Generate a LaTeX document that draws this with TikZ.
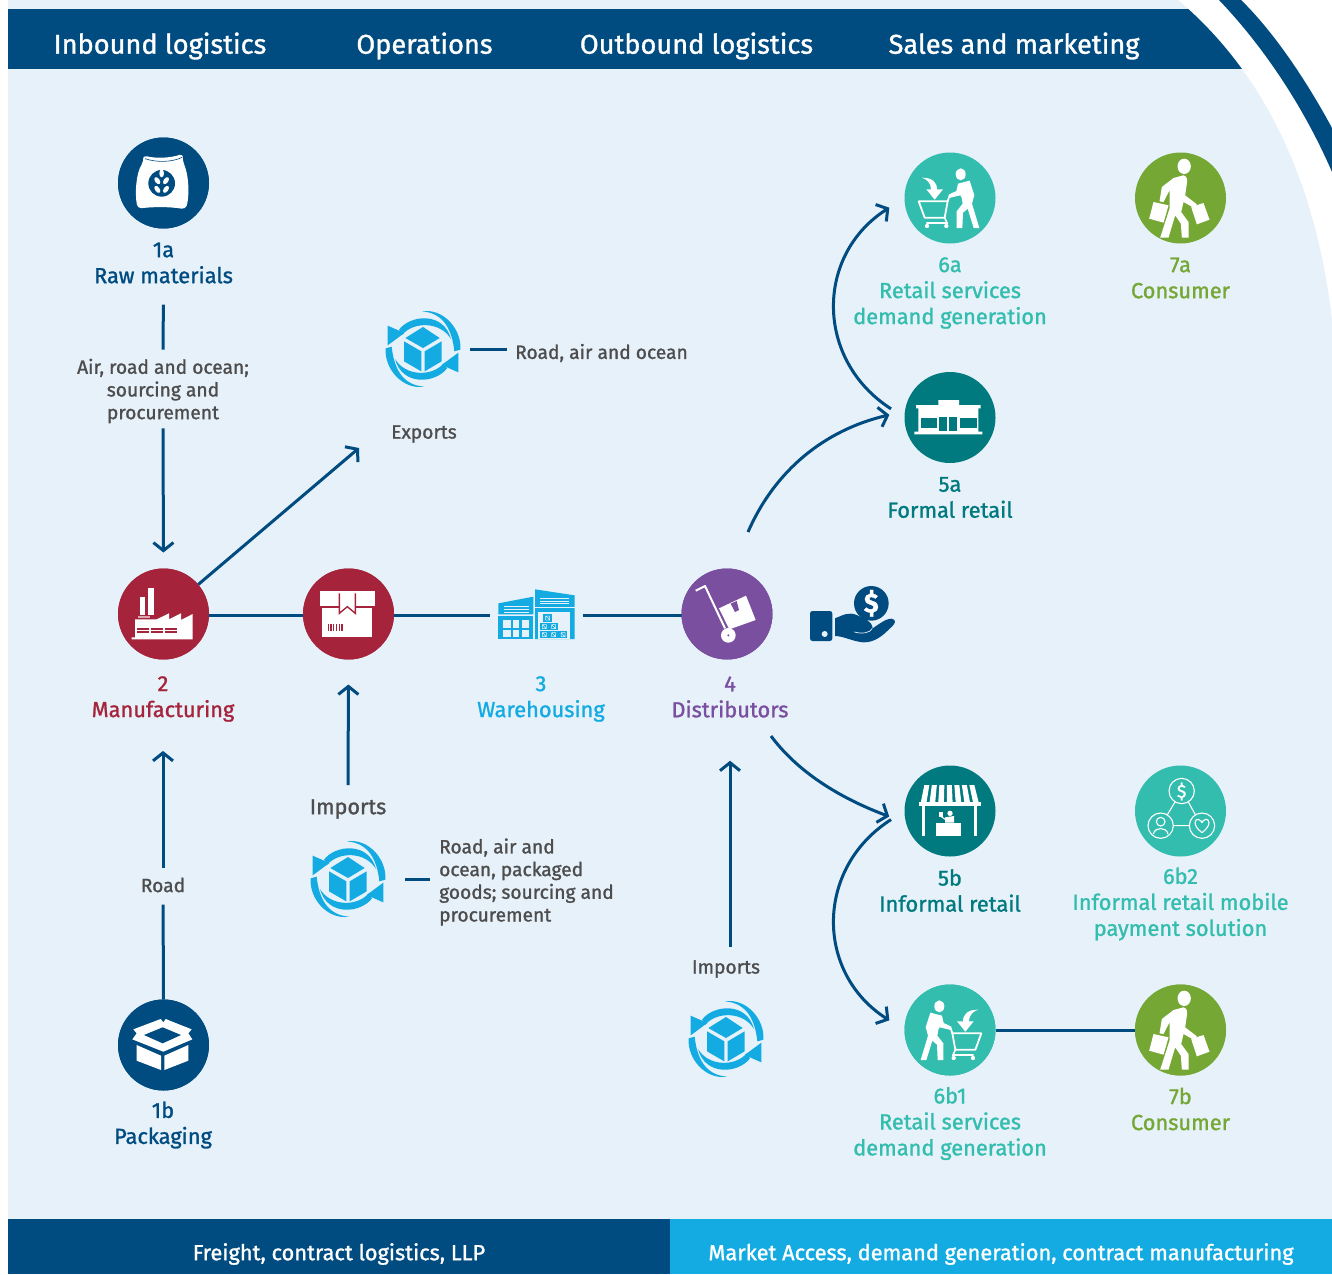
\documentclass[tikz,border=0pt]{standalone}
\usepackage{fontspec}
\usetikzlibrary{arrows.meta}
\setmainfont{Fira Sans}[FakeBold=1.2]
\definecolor{navy}{HTML}{004B80}
\definecolor{panel}{HTML}{E6F1FA}
\definecolor{crimson}{HTML}{A6243B}
\definecolor{sky}{HTML}{13ABE2}
\definecolor{violet}{HTML}{7B4F9F}
\definecolor{dteal}{HTML}{007A7E}
\definecolor{lteal}{HTML}{33BDAF}
\definecolor{leaf}{HTML}{75A735}
\definecolor{graytxt}{HTML}{4D4D4D}
\tikzset{
  disc/.style={circle,minimum size=91pt,inner sep=0pt,outer sep=0pt},
  hole/.style={inner sep=0pt,outer sep=0pt,minimum width=#1},
  conn/.style={draw=navy,line width=3pt},
  arr/.style={conn,-{Straight Barb[length=8pt,width=20pt,line width=3pt]}},
  headtxt/.style={text=white,font=\fontsize{27.2}{30}\selectfont,inner sep=0pt},
  foottxt/.style={text=white,font=\fontsize{21.8}{24}\selectfont,inner sep=0pt},
  lab/.style={align=center,inner sep=0pt,font=\fontsize{21.8}{26}\selectfont},
  small/.style={align=center,text=graytxt,inner sep=0pt,font=\fontsize{19.2}{22.7}\selectfont},
  smallL/.style={align=left,text=graytxt,inner sep=0pt,font=\fontsize{19.2}{22.7}\selectfont},
  pics/cyc/.style={code={
    \begin{scope}[shift={(-368,-148)}]
    \foreach \r in {0,180}{
      \begin{scope}[rotate around={\r:(368,148)}]
      \fill[sky] (262,78) -- (262,137) -- (312,100) -- cycle;
      \fill[sky] (296,90) .. controls (330,45) and (430,35) .. (452,118)
                 .. controls (420,65) and (340,65) .. (306,105) -- cycle;
      \fill[sky] (365,35) .. controls (430,40) and (455,90) .. (462,155) -- (480,150)
                 .. controls (485,90) and (430,25) .. (365,35) -- cycle;
      \end{scope}}
    \fill[sky] (368,82) -- (418,115) -- (368,145) -- (315,115) -- cycle;
    \fill[sky] (311,125) -- (363,155) -- (363,215) -- (311,185) -- cycle;
    \fill[sky] (373,155) -- (424,125) -- (424,185) -- (373,215) -- cycle;
    \end{scope}}},
  pics/cartperson/.style={code={
    \begin{scope}[shift={(-179,-173)}]
    \fill[white] (95,112) .. controls (125,112) and (140,125) .. (140,147) -- (158,147) -- (133,178) -- (108,147) -- (122,147) .. controls (122,130) and (112,118) .. (95,112) -- cycle;
    \draw[white,line width=1.8pt,line join=round] (85,183) -- (172,183) -- (163,232) -- (103,232) -- cycle;
    \draw[white,line width=1.8pt,line join=round] (172,183) -- (177,168) -- (205,160);
    \draw[white,line width=1.6pt] (163,232) -- (170,248) -- (108,248);
    \fill[white] (110,257) circle (6.5) (168,257) circle (6.5);
    \fill[white] (211,102) ellipse (15 and 18);
    \fill[white] (203,130) -- (238,121) -- (252,165) -- (249,175) -- (245,190) -- (267,263) -- (250,263) -- (232,205) -- (218,217) -- (216,263) -- (199,263) -- (199,213) -- (217,190) -- (214,172) -- (210,165) -- (176,173) -- (175,163) -- (198,152) -- cycle;
    \end{scope}}},
  pics/shopper/.style={code={
    \begin{scope}[shift={(-871,-173)}]
    \fill[white] (882,78) ellipse (20 and 23);
    \fill[white] (850,113) -- (880,105) .. controls (892,108) and (892,120) .. (890,130) -- (885,165) -- (920,192) -- (912,203) -- (880,185) -- (873,215) -- (895,245) -- (895,292) -- (875,292) -- (872,250) -- (855,225) -- (835,292) -- (810,292) -- (838,205) -- (838,150) -- (820,185) -- (808,183) -- (815,140) -- cycle;
    \fill[white] (790,185) -- (835,195) -- (820,247) -- (777,235) -- cycle;
    \fill[white] (903,200) -- (940,188) -- (958,238) -- (920,252) -- cycle;
    \end{scope}}}
}
\begin{document}
\begin{tikzpicture}[x=1pt,y=-1pt]
\useasboundingbox (0,0) rectangle (1332,1274);
\fill[white] (0,0) rectangle (1332,1274);
% panel
\fill[panel] (8,0) -- (1178,0) .. controls (1275,82) and (1318,200) .. (1332,320) -- (1332,1219) -- (8,1219) -- cycle;
% outer band
\fill[navy] (1219,0) .. controls (1262,45) and (1303,105) .. (1332,172) -- (1332,128) .. controls (1305,78) and (1272,30) .. (1241,0) -- cycle;
% header
\begin{scope}
\clip (8,0) -- (1178,0) .. controls (1275,82) and (1318,200) .. (1332,320) -- (8,320) -- cycle;
\fill[navy] (8,9) rectangle (1332,69);
\end{scope}
% footer
\fill[navy] (8,1219) rectangle (670,1274);
\fill[sky] (670,1219) rectangle (1332,1274);
\node[headtxt] (h1) at (160,46) {Inbound logistics};
\node[headtxt] (h2) at (424.5,46) {Operations};
\node[headtxt] (h3) at (696.5,46) {Outbound logistics};
\node[headtxt] (h4) at (1014,46) {Sales and marketing};
\node[foottxt] (f1) at (339,1254) {Freight, contract logistics, LLP};
\node[foottxt] (f2) at (1001,1254) {Market Access, demand generation, contract manufacturing};
% discs
\node[disc,fill=navy] (raw) at (163.5,183) {};
\node[disc,fill=crimson] (mfg) at (163.5,614) {};
\node[disc,fill=crimson] (pack) at (348.5,614) {};
\node[disc,fill=violet] (dist) at (727,614) {};
\node[disc,fill=lteal] (six) at (950,198) {};
\node[disc,fill=leaf] (sevA) at (1180.5,198) {};
\node[disc,fill=dteal] (fiveA) at (950,417.5) {};
\node[disc,fill=dteal] (fiveB) at (950,811) {};
\node[disc,fill=lteal] (sixBtwo) at (1180.5,811) {};
\node[disc,fill=lteal] (sixBone) at (950,1030) {};
\node[disc,fill=leaf] (sevB) at (1180.5,1030) {};
\node[disc,fill=navy] (box) at (163.5,1045) {};
\node[hole=77pt,minimum height=50pt] (ware) at (536.5,615) {};
\node[hole=76pt,minimum height=76pt] (cycE) at (423,349) {};
\node[hole=76pt,minimum height=76pt] (cycI) at (348,879) {};
\node[hole=76pt,minimum height=76pt] (cycD) at (726,1039) {};
% labels
\node[lab,text=navy] (lRaw) at (163.5,263) {1a\\Raw materials};
\node[small] (lAir) at (163,391) {Air, road and ocean;\\sourcing and\\procurement};
\node[small] (lExp) at (424,434) {Exports};
\node[smallL,anchor=west] (lRAO) at (515,353) {Road, air and ocean};
\node[lab,text=crimson] (lMfg) at (163,699) {2\\Manufacturing};
\node[lab,text=sky] (lWare) at (541,699) {3\\Warehousing};
\node[lab,text=violet] (lDist) at (730,697) {4\\Distributors};
\node[small,font=\fontsize{21.6}{24}\selectfont] (lImpA) at (348,809) {Imports};
\node[smallL,anchor=west] (lRA) at (439,882) {Road, air and\\ocean, packaged\\goods; sourcing and\\procurement};
\node[small] (lRoad) at (163,885) {Road};
\node[small] (lImpB) at (726,969) {Imports};
\node[lab,text=navy] (lBox) at (163,1125) {1b\\Packaging};
\node[lab,text=lteal] (lSix) at (950,293) {6a\\Retail services\\demand generation};
\node[lab,text=leaf] (lSevA) at (1180.5,278) {7a\\Consumer};
\node[lab,text=dteal] (lFiveA) at (950,497.5) {5a\\Formal retail};
\node[lab,text=dteal] (lFiveB) at (950,890.5) {5b\\Informal retail};
\node[lab,text=lteal] (lSixBtwo) at (1180.5,904) {6b2\\Informal retail mobile\\payment solution};
\node[lab,text=lteal] (lSixBone) at (950,1123.5) {6b1\\Retail services\\demand generation};
\node[lab,text=leaf] (lSevB) at (1180.5,1109) {7b\\Consumer};
% free ends
\coordinate (expEnd) at (359,448);
\coordinate (distUp) at (748,532);
\coordinate (distLow) at (771,736);
% connectors
\draw[conn,shorten <=21pt,shorten >=9pt] (lRaw.south) -- (lAir.north);
\draw[arr,shorten <=5pt,shorten >=16pt] (lAir.south) -- (mfg.north);
\draw[arr] (mfg) -- (expEnd);
\draw[conn] (mfg.east |- ware) -- (pack.west |- ware);
\draw[conn,shorten >=8pt] (pack.east |- ware) -- (ware.west);
\draw[conn,shorten <=8pt] (ware.east) -- (dist.west |- ware);
\draw[arr,shorten <=14pt,shorten >=25pt] (lImpA.north) -- (pack.south);
\draw[conn,shorten <=9pt,shorten >=8pt] (cycE.east) -- (cycE.east -| lRAO.west);
\draw[conn,shorten <=19pt,shorten >=9pt] (cycI.east) -- (cycI.east -| lRA.west);
\draw[conn,shorten >=12pt] (box.north) -- (lRoad.south);
\draw[arr,shorten <=9pt,shorten >=29pt] (lRoad.north) -- (lMfg.south);
\draw[arr,shorten <=13pt,shorten >=43pt] (lDist.south |- lImpB.north) -- (lDist.south);
\draw[arr,shorten >=16pt] (distUp) .. controls (775,470) and (825,430) .. (fiveA.172);
\draw[arr,shorten >=18pt] (distLow) .. controls (800,775) and (845,800) .. (fiveB.195);
\draw[arr,shorten <=16pt,shorten >=18pt] (fiveA.west) .. controls (815,360) and (815,255) .. (six.west);
\draw[arr,shorten <=16pt,shorten >=18pt] (fiveB.west) .. controls (815,868) and (815,973) .. (sixBone.west);
\draw[conn] (sixBone) -- (sevB);
% discs on top of line ends
\foreach \n/\c in {raw/navy,mfg/crimson,pack/crimson,dist/violet,sixBone/lteal,sevB/leaf,box/navy}{\fill[\c] (\n) circle (45.5);}
% sack
\begin{scope}[shift={(100,130)},scale=1/3]
\fill[white,rounded corners=4pt] (128,76) .. controls (170,86) and (210,84) .. (250,71) -- (247,90) .. controls (268,140) and (268,200) .. (257,238) .. controls (210,230) and (160,230) .. (113,236) .. controls (104,190) and (108,130) .. (132,92) -- cycle;
\draw[navy,line width=.6pt] (135,86) .. controls (170,98) and (215,97) .. (247,82);
\fill[navy] (185,160) circle (40);
\fill[white] (185,130) ellipse (7 and 12);
\foreach \yy in {152,178}{
\fill[white,rotate around={35:(172,\yy)}] (172,\yy) ellipse (7 and 12);
\fill[white,rotate around={-35:(198,\yy)}] (198,\yy) ellipse (7 and 12);}
\end{scope}
% packaging
\begin{scope}[shift={(100,990)},scale=1/3]
\fill[white] (100,118) -- (182,87) -- (190,97) -- (197,87) -- (275,118) -- (265,130) -- (277,148) -- (190,185) -- (97,148) -- (110,130) -- cycle;
\fill[navy] (132,135) -- (188,112) -- (243,135) -- (188,160) -- cycle;
\fill[white] (110,165) -- (183,197) -- (183,240) -- (110,212) -- cycle;
\fill[white] (193,197) -- (265,165) -- (265,212) -- (193,240) -- cycle;
\end{scope}
% factory
\begin{scope}[shift={(100,560)},scale=1/3]
\fill[white] (278,162) -- (243,180) -- (243,160) -- (207,178) -- (207,160) -- (170,178) -- (105,178) -- (105,232) -- (95,232) -- (95,238) -- (278,238) -- cycle;
\fill[white] (121,112) rectangle (135,165);
\fill[white] (145,85) rectangle (163,165);
\fill[white,opacity=.6] (113,168) rectangle (150,175);
\foreach \xa/\xb in {111/147,152/188,194/230}{
\fill[crimson] (\xa,205) rectangle (\xb,209);
\fill[crimson] (\xa,214) rectangle (\xb,218);}
\end{scope}
% parcel
\begin{scope}[shift={(100,560)},scale=1/3]
\fill[white] (659,93) rectangle (825,137);
\fill[white] (667,145) rectangle (817,232);
\fill[white] (720,137) rectangle (764,150);
\draw[crimson,line width=1.4pt] (718,100) -- (718,160) -- (742,140) -- (766,160) -- (766,100);
\foreach \xx in {684,691,698,708,716,724}{\fill[crimson] (\xx,192) rectangle (\xx+4,213);}
\end{scope}
% warehouse
\begin{scope}[shift={(100,560)},scale=1/3]
\fill[sky] (1195,130) -- (1300,110) -- (1300,163) -- (1195,163) -- cycle;
\foreach \yy in {137,146,155}{\fill[panel] (1212,\yy) rectangle (1287,\yy+3);}
\fill[sky] (1195,167) rectangle (1300,237);
\foreach \xa/\xb in {1210/1232,1238/1258,1266/1287}{
\fill[panel] (\xa,180) rectangle (\xb,203);
\fill[panel] (\xa,210) rectangle (\xb,232);}
\fill[sky] (1305,88) -- (1424,106) -- (1424,237) -- (1305,237) -- cycle;
\foreach \yy in {114,122,130}{\fill[panel] (1320,\yy) rectangle (1407,\yy+3);}
\fill[panel] (1305,141) rectangle (1424,144);
\fill[panel] (1315,157) rectangle (1411,237);
\fill[sky] (1330,163) rectangle (1356,185);
\fill[sky] (1320,190) rectangle (1375,210);
\fill[sky] (1320,213) rectangle (1402,235);
\foreach \xx/\yy in {1343/174,1333/200,1361/200,1333/224,1361/224,1389/224}{
\draw[panel,line width=.5pt] (\xx-6,\yy-6) rectangle (\xx+6,\yy+6) (\xx-6,\yy-6) -- (\xx+6,\yy+6);}
\end{scope}
% trolley
\begin{scope}[shift={(670,560)},scale=1/3]
\draw[white,line width=2pt,line join=round] (77,92) -- (105,78) -- (165,205);
\fill[white] (147,145) -- (228,107) -- (257,180) -- (178,208) -- cycle;
\fill[violet] (182,131) -- (200,123) -- (207,150) -- (195,156) -- cycle;
\fill[white] (175,226) circle (22);
\fill[violet] (175,226) circle (3.5);
\end{scope}
% hand with coin
\begin{scope}[shift={(670,560)},scale=1/3]
\fill[navy] (604,130) circle (52);
\fill[navy,rounded corners=2.5pt] (420,153) rectangle (487,243);
\fill[panel] (464,222) circle (9);
\fill[navy] (495,175) .. controls (520,165) and (535,155) .. (560,165) .. controls (580,175) and (605,180) .. (608,205) .. controls (630,190) and (650,175) .. (665,176) .. controls (680,180) and (678,190) .. (660,205) .. controls (640,225) and (615,248) .. (580,247) .. controls (550,245) and (520,228) .. (495,228) -- cycle;
\draw[panel,line width=.7pt] (553,216) .. controls (575,222) and (600,220) .. (607,205);
\end{scope}
\node[text=white,inner sep=0pt,font=\fontsize{27}{30}\bfseries\selectfont] (coin) at (871.3,603.3) {\$};
% stall
\begin{scope}[shift={(890,760)},scale=1/3]
\foreach \i in {0,...,6}{
\fill[white] ({100+\i*22.5+3},75) -- ({100+\i*22.5+18},75) -- ({88+\i*26.3+21},130) -- ({88+\i*26.3+4},130) -- cycle;}
\fill[white] (88,125) rectangle (272,137);
\fill[white] (97,137) rectangle (106,228);
\fill[white] (252,137) rectangle (262,228);
\fill[white] (137,190) rectangle (213,228);
\fill[white] (180,160) circle (8);
\fill[white] (165,172) -- (192,168) -- (192,188) -- (165,188) -- cycle;
\fill[white] (147,155) rectangle (160,170);
\draw[white,line width=1pt] (154,170) -- (168,180);
\end{scope}
% network
\begin{scope}[shift={(890,760)},scale=1/3]
\draw[white,line width=1.1pt] (875,93) circle (38) (812,197) circle (38) (936,197) circle (38);
\draw[white,line width=1.1pt] (855,126) -- (832,164) (895,126) -- (916,164) (850,197) -- (898,197);
\draw[white,line width=1.1pt] (812,185) circle (13);
\draw[white,line width=1.1pt] (790,222) .. controls (795,200) and (829,200) .. (834,222);
\draw[white,line width=1.1pt,line join=round] (936,218) .. controls (905,195) and (915,175) .. (925,178) .. controls (932,178) and (936,188) .. (936,188) .. controls (936,188) and (940,178) .. (947,178) .. controls (957,175) and (967,195) .. (936,218) -- cycle;
\end{scope}
\node[text=white,inner sep=0pt,font=\fontsize{18}{20}\selectfont] (dollar) at (1181.6,791.5) {\$};
% store
\begin{scope}[shift={(890,365)},scale=1/3]
\fill[white] (85,120) -- (145,120) -- (145,105) -- (207,105) -- (207,120) -- (272,120) -- (272,130) -- (265,130) -- (265,200) -- (277,200) -- (277,208) -- (73,208) -- (73,200) -- (85,200) -- (85,130) -- (78,130) -- (78,120) -- cycle;
\fill[dteal] (92,160) rectangle (140,190);
\fill[dteal] (147,157) rectangle (170,198);
\fill[dteal] (178,157) rectangle (202,198);
\fill[dteal] (210,160) rectangle (260,190);
\end{scope}
% people
\pic[scale=1/3] at (950,198) {cartperson};
\pic[xscale=-1/3,yscale=1/3] at (950,1030) {cartperson};
\pic[scale=1/3] at (1180.5,198) {shopper};
\pic[scale=1/3] at (1180.5,1030) {shopper};
\pic[scale=1/3] at (423,349) {cyc};
\pic[scale=1/3] at (348,879) {cyc};
\pic[scale=1/3] at (726,1039) {cyc};
\end{tikzpicture}
\end{document}
